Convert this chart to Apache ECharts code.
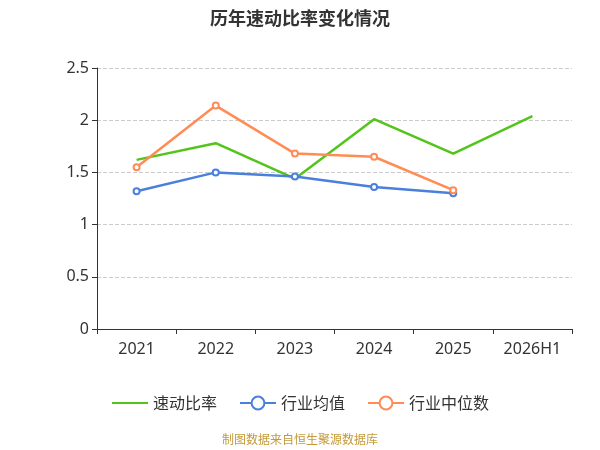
<!DOCTYPE html>
<html><head><meta charset="utf-8">
<script src="https://cdn.jsdelivr.net/npm/echarts@6/dist/echarts.min.js"></script>
<style>body{margin:0}#c{width:600px;height:450px}</style></head>
<body><div id="c"></div>
<script>
const categories=['2021','2022','2023','2024','2025','2026H1'];
const quickRatio=[1.62,1.78,1.44,2.01,1.68,2.04];
const industryMean=[1.32,1.50,1.46,1.36,1.30];
const industryMedian=[1.55,2.14,1.68,1.65,1.33];
const yTicks={min:0,max:2.5,interval:0.5};
const F='Noto Sans, Noto Sans CJK SC';
const chart=echarts.init(document.getElementById('c'));
chart.setOption({
  textStyle:{fontFamily:F},
  title:{text:'历年速动比率变化情况',left:'center',top:4,textStyle:{fontSize:18,fontWeight:'bold',color:'#333',fontFamily:'Noto Sans CJK SC'}},
  graphic:[{type:'text',left:'center',top:433,style:{text:'制图数据来自恒生聚源数据库',fill:'#c49a3a',fontSize:12,fontFamily:'Noto Sans CJK SC'}}],
  legend:{bottom:34,itemGap:22,itemWidth:36,itemHeight:16,textStyle:{fontSize:16,color:'#333',fontFamily:'Noto Sans CJK SC'},data:['速动比率','行业均值','行业中位数']},
  grid:{left:97,right:28,top:68,bottom:121},
  xAxis:{type:'category',data:categories,axisTick:{show:true},axisLine:{lineStyle:{color:'#333'}},axisLabel:{color:'#333',fontSize:16,margin:12,fontFamily:F}},
  yAxis:{type:'value',min:yTicks.min,max:yTicks.max,interval:yTicks.interval,axisLine:{show:true,lineStyle:{color:'#333'}},axisTick:{show:true},axisLabel:{color:'#333',fontSize:16,fontFamily:F},splitLine:{lineStyle:{type:'dashed',color:'#ccc'}}},
  series:[
    {name:'速动比率',type:'line',data:quickRatio,symbol:'emptyCircle',symbolSize:1,itemStyle:{opacity:0},color:'#52c41a',lineStyle:{width:2.5},label:{show:true,color:'#222',fontSize:16,position:'top',offset:[0,10],fontFamily:F}},
    {name:'行业均值',type:'line',data:industryMean,symbol:'emptyCircle',symbolSize:6,color:'#4a7fdc',lineStyle:{width:2.5}},
    {name:'行业中位数',type:'line',data:industryMedian,symbol:'emptyCircle',symbolSize:6,color:'#ff8c55',lineStyle:{width:2.5}}
  ]
});
</script></body></html>
